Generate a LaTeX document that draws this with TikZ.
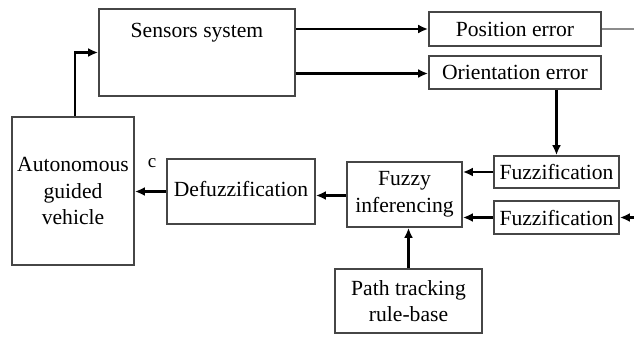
\documentclass[tikz,border=0pt]{standalone}
\usepackage{fontspec}
\setmainfont{Liberation Serif}
\usetikzlibrary{arrows.meta,shadows}
\definecolor{edge}{RGB}{70,70,70}
\definecolor{shade}{RGB}{140,140,140}
\tikzset{
  blk/.style={draw=edge, line width=1.8pt, fill=white, inner sep=0pt,
    align=center, font=\fontsize{21.6}{26.5}\selectfont,
    drop shadow={shadow xshift=1.4pt, shadow yshift=-1.4pt, fill=shade, opacity=1}},
  txt/.style={inner sep=0pt, font=\fontsize{21.6}{26.5}\selectfont},
  flow/.style={line width=2.2pt, draw=black, -{Latex[length=10pt,width=9pt]}},
  plain/.style={line width=2.2pt, draw=shade}
}
\begin{document}
\begin{tikzpicture}[x=1pt,y=-1pt]
\useasboundingbox (0,0) rectangle (634,337);

% blocks
\node[blk, minimum width=196pt, minimum height=87pt] (sens) at (197,52.5) {};
\node[txt] (sensT) at (197,33) {Sensors system};
\node[blk, minimum width=122pt, minimum height=148pt] (agv) at (73,191) {Autonomous\\guided\\vehicle};
\node[blk, minimum width=172pt, minimum height=34pt] (pos) at (515,29) {Position error};
\node[blk, minimum width=172pt, minimum height=33pt] (ori) at (515,72.5) {Orientation error};
\node[blk, minimum width=125pt, minimum height=32pt] (fz1) at (556.5,172) {Fuzzification};
\node[blk, minimum width=125pt, minimum height=33pt] (fz2) at (556.5,217.5) {Fuzzification};
\node[blk, minimum width=115pt, minimum height=65pt] (fi) at (404.5,194.5) {Fuzzy\\inferencing};
\node[blk, minimum width=147pt, minimum height=64pt] (ptr) at (408.5,301) {Path tracking\\rule-base};
\node[blk, minimum width=148pt, minimum height=65pt] (dfz) at (241,191.5) {\raisebox{5pt}{Defuzzification}};
\node[txt] (cl) at (152,163) {\fontsize{19}{21}\selectfont c};

% free ends at the right border
\coordinate (posR) at (634,29);
\coordinate (fz2R) at (634,217.5);

% connectors
\draw[flow] ([xshift=2pt]agv.north) |- (sens.west);
\draw[flow] (pos.west -| sens.east) -- (pos.west);
\draw[flow] ([yshift=-1pt]ori.west -| sens.east) -- ([yshift=-1pt]ori.west);
\draw[plain] (pos.east) -- (posR);
\draw[flow] (ori.south -| fz1.north) -- (fz1.north);
\draw[flow] (fz1.west) -- (fz1.west -| fi.east);
\draw[flow] (fz2.west) -- (fz2.west -| fi.east);
\draw[flow] (fz2R) -- (fz2.east);
\draw[flow] (ptr.north) -- (ptr.north |- fi.south);
\draw[flow] ([yshift=-1pt]fi.west) -- ([yshift=-1pt]fi.west -| dfz.east);
\draw[flow] (dfz.west) -- (dfz.west -| agv.east);
\end{tikzpicture}
\end{document}
